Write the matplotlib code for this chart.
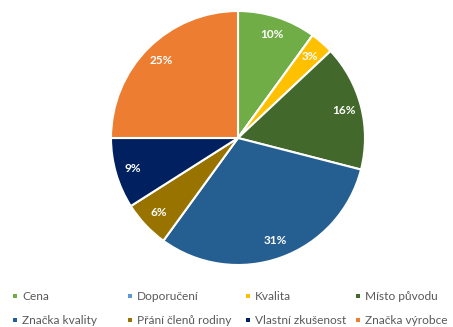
import numpy as np
import matplotlib.pyplot as plt

# -------------------------------
# data
# -------------------------------
labels = ['Cena', 'Doporučení', 'Kvalita', 'Místo původu',
          'Značka kvality', 'Přání členů rodiny', 'Vlastní zkušenost', 'Značka výrobce']
values = [10, 0, 3, 16, 31, 6, 9, 25]
colors = ['#70AD47', '#5B9BD5', '#FFC000', '#43682B',
          '#255E91', '#997300', '#002060', '#ED7D31']

plt.rcParams['font.family'] = ['Lato', 'DejaVu Sans']

W, H = 453, 327
fig = plt.figure(figsize=(W / 100, H / 100), dpi=100)

# -------------------------------
# pie
# -------------------------------
cx, cy, r = 238, 138, 127
ax = fig.add_axes([(cx - r) / W, 1 - (cy + r) / H, 2 * r / W, 2 * r / H])


def fmt(p):
    return f'{p:.0f}%' if p >= 0.5 else ''


wedges, texts, autotexts = ax.pie(values, colors=colors, startangle=90, counterclock=False,
                                  autopct=fmt, pctdistance=0.86,
                                  wedgeprops=dict(edgecolor='white', linewidth=1.5),
                                  textprops=dict(color='white', fontsize=8.5, fontweight='bold'))
ax.set_xlim(-1, 1)
ax.set_ylim(-1, 1)

# -------------------------------
# legend (equal-width columns like Excel)
# -------------------------------
lax = fig.add_axes([0, 0, 1, 1])
lax.set_xlim(0, W)
lax.set_ylim(H, 0)
lax.axis('off')

col_x = [15, 130, 248, 358]
row_y = [296, 320]
for i, (lab, c) in enumerate(zip(labels, colors)):
    x = col_x[i % 4]
    y = row_y[i // 4]
    lax.plot(x, y, 's', color=c, markersize=3.4, markeredgewidth=0)
    lax.text(x + 7, y, lab, fontsize=8.6, color='#595959', va='center', ha='left')

fig.savefig('out.png', dpi=100)
